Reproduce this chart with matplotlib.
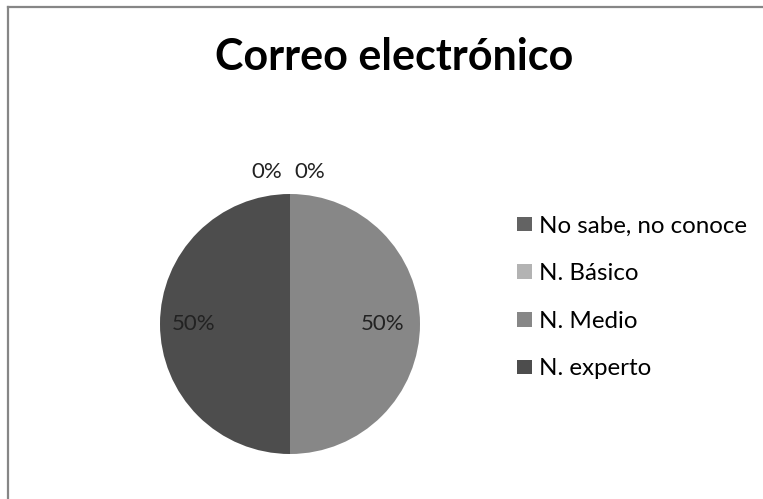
import matplotlib.pyplot as plt
from matplotlib.lines import Line2D

categorias = ['No sabe, no conoce', 'N. Básico', 'N. Medio', 'N. experto']
valores = [0, 0, 50, 50]
colores = ['#636363', '#b3b3b3', '#878787', '#4d4d4d']

plt.rcParams['font.family'] = ['Lato', 'DejaVu Sans']

W, H = 763, 499
fig = plt.figure(figsize=(W / 100, H / 100), dpi=100)

# borde del gráfico (gris, arriba e izquierda)
fig.add_artist(Line2D([8 / W, 8 / W], [0, 1 - 7 / H], color='#868686', lw=1.6))
fig.add_artist(Line2D([8 / W, 1], [1 - 7 / H, 1 - 7 / H], color='#868686', lw=1.6))

fig.text(394 / W, 1 - 57 / H, 'Correo electrónico', ha='center', va='center',
         fontsize=31, fontweight='bold')

ax = fig.add_axes([160 / W, (H - 454) / H, 260 / W, 260 / H])
wedges, textos = ax.pie(valores, colors=colores, startangle=90, counterclock=False,
                        wedgeprops=dict(linewidth=0))
ax.set_xlim(-1, 1)
ax.set_ylim(-1, 1)
ax.set_aspect('auto')
ax.axis('off')

total = sum(valores)
pos_etiquetas = [(-0.18, 1.17), (0.15, 1.17), (0.715, 0.0), (-0.74, 0.0)]
for v, (x, y) in zip(valores, pos_etiquetas):
    ax.text(x, y, f'{v / total * 100:.0f}%', ha='center', va='center',
            fontsize=16, color='#222222', clip_on=False)

fig.legend(wedges, categorias, loc='upper left', bbox_to_anchor=(507 / W, 1 - 206 / H),
           frameon=False, fontsize=17.4, handlelength=0.62, handleheight=0.55,
           handletextpad=0.3, labelspacing=1.1, borderaxespad=0)

fig.savefig('out.png', dpi=100, facecolor='white')
